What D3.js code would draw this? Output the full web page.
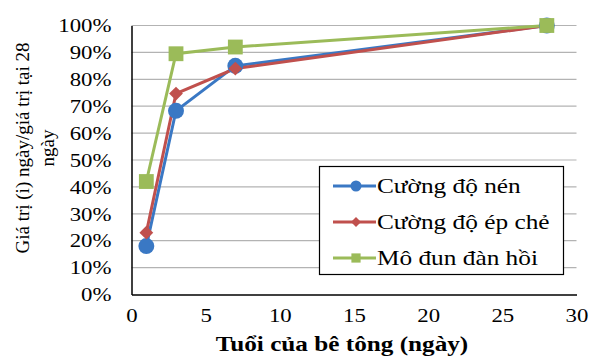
<!DOCTYPE html>
<html><head><meta charset="utf-8">
<script src="https://cdn.jsdelivr.net/npm/d3@7"></script>
<style>body{margin:0;background:#fff}svg{display:block}</style>
</head><body><svg id="c" width="589" height="358"></svg>
<script>
const days = [1, 3, 7, 28];
const seriesNames = ["Cường độ nén", "Cường độ ép chẻ", "Mô đun đàn hồi"];
const compressive = [0.18, 0.683, 0.85, 1.0];
const splitting = [0.23, 0.747, 0.84, 1.0];
const modulus = [0.42, 0.895, 0.92, 1.0];
const xTicks = [0, 5, 10, 15, 20, 25, 30];
const yTicks = [0, 0.1, 0.2, 0.3, 0.4, 0.5, 0.6, 0.7, 0.8, 0.9, 1.0];
const colors = ["#3a78c4", "#c0504d", "#9bbb59"];
const shapes = [d3.symbolCircle, d3.symbolSquare, d3.symbolSquare];
const rot = [0, 45, 0];
const FONT = "Liberation Serif";

const svg = d3.select("#c");
const L = 131.5, R = 576.5, T = 25.5, B = 294.5;
const x = d3.scaleLinear().domain([0, 30]).range([L, R]);
const y = d3.scaleLinear().domain([0, 1]).range([B, T]);

function stretch(sel, k) {
  sel.each(function () {
    const w = this.getComputedTextLength();
    d3.select(this).attr("textLength", w * k).attr("lengthAdjust", "spacingAndGlyphs");
  });
}

svg.append("g").selectAll("line").data(yTicks.slice(1)).join("line")
  .attr("x1", L).attr("x2", R).attr("y1", d => y(d)).attr("y2", d => y(d))
  .attr("stroke", "#b3b3b3").attr("stroke-width", 1.2);

const yAxis = svg.append("g").attr("transform", `translate(${L},0)`)
  .call(d3.axisLeft(y).tickValues(yTicks).tickFormat(d3.format(".0%")).tickSize(0).tickPadding(20));
const xAxis = svg.append("g").attr("transform", `translate(0,${B})`)
  .call(d3.axisBottom(x).tickValues(xTicks).tickFormat(d3.format("d")).tickSize(0).tickPadding(14));
[yAxis, xAxis].forEach(a => {
  a.attr("font-family", null).attr("font-size", null);
  a.select(".domain").attr("stroke", "#000").attr("stroke-width", 1.5);
  a.selectAll("text").style("font-family", FONT).style("font-size", "19.5px").attr("fill", "#000");
  stretch(a.selectAll("text"), 1.17);
});

const data = [compressive, splitting, modulus];
const line = d3.line().x((d, i) => x(days[i])).y(d => y(d));
data.forEach((vals, s) => {
  svg.append("path").datum(vals).attr("d", line).attr("fill", "none")
    .attr("stroke", colors[s]).attr("stroke-width", 3);
});
const sizes = [200, 95, 220];
data.forEach((vals, s) => {
  svg.append("g").selectAll("path").data(vals).join("path")
    .attr("transform", (d, i) => `translate(${x(days[i])},${y(d)}) rotate(${rot[s]})`)
    .attr("d", d3.symbol().type(shapes[s]).size(sizes[s]))
    .attr("fill", colors[s]);
});

const lg = svg.append("g");
lg.append("rect").attr("x", 319.5).attr("y", 166.5).attr("width", 244).attr("height", 108)
  .attr("fill", "#fff").attr("stroke", "#000").attr("stroke-width", 1.2);
const lsizes = [95, 50, 85];
seriesNames.forEach((n, s) => {
  const yy = 186 + s * 36;
  lg.append("line").attr("x1", 333).attr("x2", 376).attr("y1", yy).attr("y2", yy)
    .attr("stroke", colors[s]).attr("stroke-width", 3);
  lg.append("path").attr("transform", `translate(356,${yy}) rotate(${rot[s]})`)
    .attr("d", d3.symbol().type(shapes[s]).size(lsizes[s])).attr("fill", colors[s]);
  const t = lg.append("text").attr("x", 377).attr("y", yy + 7)
    .style("font-family", FONT).style("font-size", "22px").text(n);
  stretch(t, 1.15);
});

const xt = svg.append("text").attr("x", 342).attr("y", 351).attr("text-anchor", "middle")
  .style("font-family", FONT).style("font-size", "21px").style("font-weight", "bold")
  .text("Tuổi của bê tông (ngày)");
stretch(xt, 1.2);
const yt = svg.append("text").attr("transform", "translate(0,148) rotate(-90)")
  .attr("text-anchor", "middle").style("font-family", FONT).style("font-size", "19px");
yt.append("tspan").attr("x", 0).attr("y", 29).text("Giá trị (i) ngày/giá trị tại 28");
yt.append("tspan").attr("x", 0).attr("y", 54).text("ngày");
</script></body></html>
